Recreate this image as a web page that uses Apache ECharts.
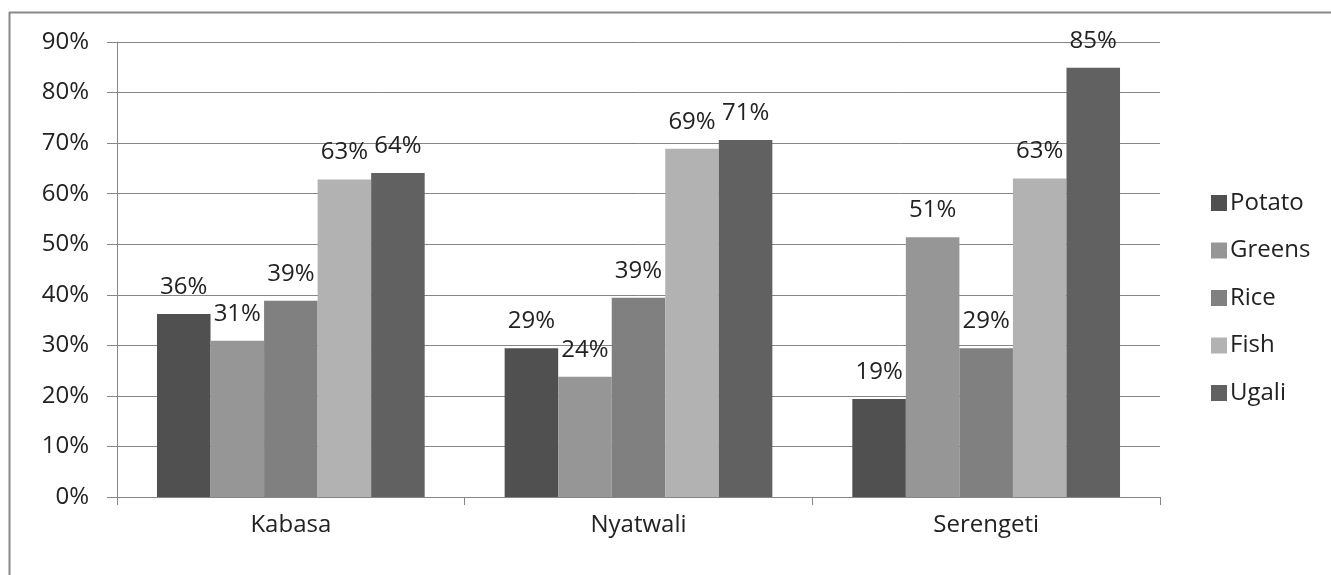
<!DOCTYPE html>
<html>
<head>
<meta charset="utf-8">
<script src="https://cdn.jsdelivr.net/npm/echarts@6/dist/echarts.min.js"></script>
<style>
html,body{margin:0;padding:0;background:#fff;}
#chart{width:1331px;height:575px;}
</style>
</head>
<body>
<div id="chart"></div>
<script>
const categories = ['Kabasa', 'Nyatwali', 'Serengeti'];
const seriesNames = ['Potato', 'Greens', 'Rice', 'Fish', 'Ugali'];
const potato = [36.2, 29.4, 19.4];
const greens = [30.9, 23.8, 51.4];
const rice = [38.8, 39.4, 29.4];
const fish = [62.8, 68.9, 63.0];
const ugali = [64.1, 70.6, 84.9];
const yTicks = [0, 10, 20, 30, 40, 50, 60, 70, 80, 90];

const colors = ['#505050', '#969696', '#808080', '#b2b2b2', '#616161'];
const values = [potato, greens, rice, fish, ugali];
const FONT = 'Open Sans';
const FS = 24;
const textColor = '#222222';

const chart = echarts.init(document.getElementById('chart'));
chart.setOption({
  animation: false,
  backgroundColor: '#ffffff',
  textStyle: { fontFamily: FONT },
  grid: { left: 117, right: 171, top: 42, bottom: 78, containLabel: false },
  legend: {
    orient: 'vertical',
    left: 1206,
    top: 186,
    itemWidth: 16,
    itemHeight: 16,
    itemGap: 23.5,
    icon: 'rect',
    data: seriesNames,
    textStyle: { fontFamily: FONT, fontSize: FS, color: textColor, lineHeight: 24, padding: [0, 0, 0, -2] }
  },
  xAxis: {
    type: 'category',
    data: categories,
    axisLine: { lineStyle: { color: '#868686', width: 1 } },
    axisTick: { show: true, length: 8, lineStyle: { color: '#868686' } },
    axisLabel: { fontFamily: FONT, fontSize: FS, color: textColor, margin: 16 }
  },
  yAxis: {
    type: 'value',
    min: yTicks[0],
    max: yTicks[yTicks.length - 1],
    interval: 10,
    axisLine: { show: true, lineStyle: { color: '#868686', width: 1 } },
    axisTick: { show: true, inside: false, length: 10, lineStyle: { color: '#868686' } },
    splitLine: { show: true, lineStyle: { color: '#868686', width: 1 } },
    axisLabel: { fontFamily: FONT, fontSize: FS, color: textColor, margin: 28, formatter: '{value}%' }
  },
  series: seriesNames.map((name, i) => ({
    name: name,
    type: 'bar',
    data: values[i],
    barGap: '0%',
    barCategoryGap: '23%',
    itemStyle: { color: colors[i] },
    label: {
      show: true,
      position: 'top',
      distance: 15,
      fontFamily: FONT,
      fontSize: FS,
      color: textColor,
      formatter: p => Math.round(p.value) + '%'
    }
  })),
  graphic: [
    { type: 'line', shape: { x1: 9.5, y1: 12, x2: 9.5, y2: 575 }, style: { stroke: '#888888', lineWidth: 2 } },
    { type: 'line', shape: { x1: 9, y1: 12.5, x2: 1331, y2: 12.5 }, style: { stroke: '#888888', lineWidth: 2 } }
  ]
});
</script>
</body>
</html>
